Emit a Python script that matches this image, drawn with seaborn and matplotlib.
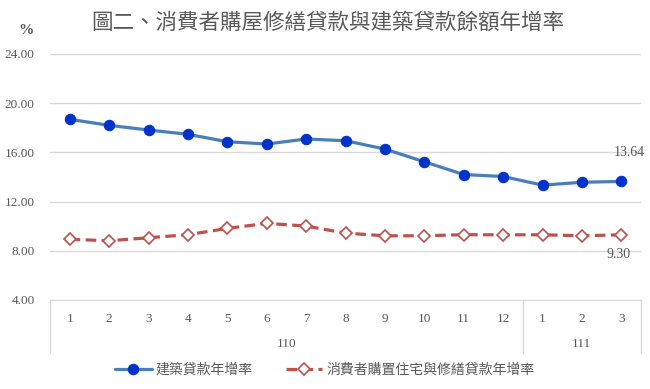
import numpy as np
import pandas as pd
import matplotlib
matplotlib.use('Agg')
import matplotlib.pyplot as plt
import seaborn as sns

# data
months = ['1', '2', '3', '4', '5', '6', '7', '8', '9', '10', '11', '12', '1', '2', '3']
years = ['110', '111']
year_span = [12, 3]
construction = [18.69, 18.20, 17.82, 17.47, 16.87, 16.68, 17.09, 16.95, 16.27,
                15.24, 14.20, 14.04, 13.34, 13.57, 13.64]
housing = [8.93, 8.82, 9.06, 9.31, 9.82, 10.23, 10.01, 9.44, 9.22,
           9.22, 9.31, 9.30, 9.30, 9.22, 9.30]
name_constr = '建築貸款年增率'
name_house = '消費者購置住宅與修繕貸款年增率'
title = '圖二、消費者購屋修繕貸款與建築貸款餘額年增率'

sns.set_style('white')
plt.rcParams['font.family'] = ['Liberation Serif', 'Noto Sans CJK TC', 'DejaVu Sans']

df = pd.DataFrame({'idx': np.arange(len(months)),
                   name_constr: construction,
                   name_house: housing})

fig = plt.figure(figsize=(6.5, 3.89), dpi=100)
ax = fig.add_axes([50 / 650, 1 - 300 / 389, 591 / 650, 246 / 389])

grey = '#595959'
sns.lineplot(data=df, x='idx', y=name_constr, ax=ax, color='#4a7ebb', lw=2.3,
             marker='o', markersize=7.5, markerfacecolor='#0033cc',
             markeredgecolor='#0033cc', label=name_constr)
sns.lineplot(data=df, x='idx', y=name_house, ax=ax, color='#c0504d', lw=2.3,
             linestyle=(0, (3.3, 1.7)), marker='D', markersize=6,
             markerfacecolor='white', markeredgecolor='#c0504d',
             markeredgewidth=1.2, label=name_house)

ax.set_xlim(-0.5, len(months) - 0.5)
ax.set_ylim(4, 24)
ax.set_yticks(np.arange(4, 25, 4))
ax.set_yticklabels([f'{v:.2f}' for v in np.arange(4, 25, 4)], color=grey, fontsize=9.5)
ax.set_xticks(df['idx'])
ax.set_xticklabels(months, color=grey, fontsize=9.5)
ax.tick_params(axis='x', length=0, pad=9)
ax.tick_params(axis='y', length=0, pad=11)
ax.grid(axis='y', color='#d9d9d9', lw=1)
ax.set_xlabel('')
ax.set_ylabel('')
for s in ['top', 'right', 'left']:
    ax.spines[s].set_visible(False)
ax.spines['bottom'].set_color('#d9d9d9')

# category table lines under the axis
tr = ax.get_xaxis_transform()
edges = np.concatenate([[0], np.cumsum(year_span)]) - 0.5
for e in edges:
    ax.plot([e, e], [0, -0.215], transform=tr, color='#d9d9d9', lw=1, clip_on=False)
for i, y in enumerate(years):
    mid = (edges[i] + edges[i + 1]) / 2
    ax.text(mid, -0.18, y, transform=tr, ha='center', va='center',
            color=grey, fontsize=9.5)

# end labels
ax.annotate(f'{construction[-1]:.2f}', (df['idx'].iloc[-1], construction[-1]),
            xytext=(6, 21), textcoords='offset points', ha='center', va='center',
            color=grey, fontsize=10)
ax.annotate(f'{housing[-1]:.2f}', (df['idx'].iloc[-1], housing[-1]),
            xytext=(-2, -14), textcoords='offset points', ha='center', va='center',
            color=grey, fontsize=10)

fig.text(26 / 650, 1 - 31 / 389, '%', ha='center', va='center', color=grey,
         fontsize=11, fontweight='bold')
fig.text(328 / 650, 1 - 23 / 389, title, ha='center', va='center', color=grey,
         fontsize=15.5, family=['Noto Sans CJK TC'])

ax.legend(loc='center', bbox_to_anchor=(0.5, 1 - 370 / 389),
          bbox_transform=fig.transFigure, ncol=2, frameon=False,
          handlelength=2.6, handletextpad=0.3, columnspacing=2.4,
          labelcolor=grey, prop={'family': ['Noto Sans CJK TC'], 'size': 10})

fig.savefig('out.png', dpi=100)
